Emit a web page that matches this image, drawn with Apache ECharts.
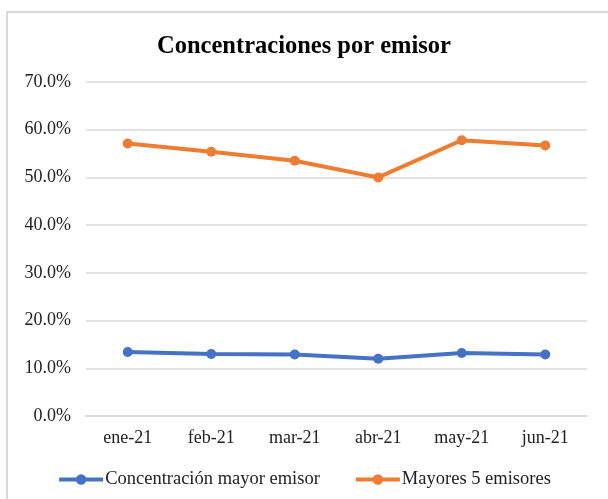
<!DOCTYPE html>
<html>
<head>
<meta charset="utf-8">
<script src="https://cdn.jsdelivr.net/npm/echarts@6/dist/echarts.min.js"></script>
<style>
  html, body { margin: 0; padding: 0; background: #fff; }
  #demo { width: 608px; height: 499px; }
</style>
</head>
<body>
<div id="demo"></div>
<script>
// datos (en %)
const months = ['ene-21', 'feb-21', 'mar-21', 'abr-21', 'may-21', 'jun-21']
const mayorEmisor = [13.4, 13.0, 12.9, 12.0, 13.2, 12.9]
const mayores5 = [57.1, 55.4, 53.5, 50.0, 57.8, 56.7]

const font = '"Liberation Serif", "Times New Roman", serif'

const chart = echarts.init(document.getElementById('demo'))
const option = {
  animation: false,
  textStyle: { fontFamily: font },
  graphic: [{
    type: 'rect',
    shape: { x: 7, y: 12, width: 620, height: 500 },
    style: { fill: 'none', stroke: '#d9d9d9', lineWidth: 2 },
    silent: true
  }],
  title: {
    text: 'Concentraciones por emisor',
    left: 'center',
    top: 29,
    textStyle: { fontFamily: font, fontSize: 24.5, fontWeight: 'bold', color: '#000' }
  },
  grid: { left: 86, right: 21, top: 82, bottom: 83 },
  legend: {
    bottom: 5,
    left: 'center',
    itemWidth: 44,
    itemHeight: 13,
    itemGap: 34,
    lineStyle: { width: 4 },
    textStyle: { fontFamily: font, fontSize: 18.5, color: '#222', padding: [0, 0, 0, -3] },
    data: ['Concentración mayor emisor', 'Mayores 5 emisores']
  },
  xAxis: {
    type: 'category',
    data: months,
    boundaryGap: true,
    axisLine: { show: true, lineStyle: { color: '#d9d9d9', width: 1.5 } },
    axisTick: { show: false },
    axisLabel: { fontFamily: font, fontSize: 18, color: '#222', margin: 13 }
  },
  yAxis: {
    type: 'value',
    min: 0,
    max: 70,
    interval: 10,
    axisLine: { show: false },
    axisTick: { show: false },
    splitLine: { lineStyle: { color: '#d9d9d9', width: 1.5 } },
    axisLabel: {
      fontFamily: font, fontSize: 18, color: '#222', margin: 15,
      formatter: v => v.toFixed(1) + '%'
    }
  },
  series: [{
    name: 'Concentración mayor emisor',
    type: 'line',
    data: mayorEmisor,
    symbol: 'circle',
    symbolSize: 10,
    lineStyle: { width: 4, color: '#4472C4' },
    itemStyle: { color: '#4472C4' }
  }, {
    name: 'Mayores 5 emisores',
    type: 'line',
    data: mayores5,
    symbol: 'circle',
    symbolSize: 10,
    lineStyle: { width: 4, color: '#ED7D31' },
    itemStyle: { color: '#ED7D31' }
  }]
}
chart.setOption(option)
</script>
</body>
</html>
